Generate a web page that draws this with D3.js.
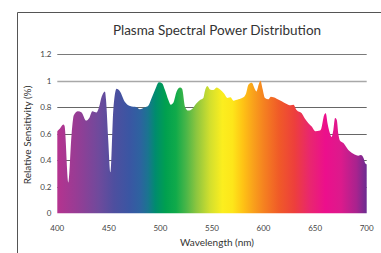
<!DOCTYPE html>
<html>
<head>
<meta charset="utf-8">
<script src="https://cdn.jsdelivr.net/npm/d3@7"></script>
<style>
  html,body{margin:0;padding:0;background:#fff;}
  svg{display:block;font-family:"Lato","Open Sans",sans-serif;}
</style>
</head>
<body>
<div id="chart"></div>
<script>
// Plasma SPD – area under curve filled with spectrum gradient
const title = "Plasma Spectral Power Distribution";
const xLabel = "Wavelength (nm)";
const yLabel = "Relative Sensitivity (%)";

const xTicks = [400,450,500,550,600,650,700];
const yTicks = [0,0.2,0.4,0.6,0.8,1,1.2];

const wavelength = [400,402.6,405.8,407,410.7,413.9,416,420,423.6,427.8,431,434,438,440.4,443,446.2,447.2,449.4,451.4,454.3,457.5,460.8,465.6,470.5,477,480,485,488,491.5,494.7,498.6,501.8,504.4,507.7,510,512.5,515.7,519,521,523.8,527,531,535,538.4,541.6,543,545.5,548,551.3,554.5,557.8,561.7,565,568,570.7,575.6,580.4,583,585.3,588.5,591.7,593,595.6,597,599,601.4,604.7,607,609.5,612.7,617.6,622.4,626.3,629,632,637,640,643.5,646.7,650,654.8,656,658.7,660.3,662,664.5,666,667.7,669.3,671,672.5,674,677.4,682,687,692,694.4,697,698.4,700];
const power = [0.62,0.64,0.67,0.66,0.23,0.60,0.74,0.77,0.76,0.70,0.72,0.77,0.76,0.80,0.88,0.92,0.86,0.55,0.31,0.78,0.94,0.92,0.84,0.81,0.80,0.785,0.80,0.81,0.87,0.93,0.99,0.98,0.93,0.855,0.82,0.835,0.92,0.95,0.94,0.805,0.775,0.79,0.83,0.855,0.87,0.92,0.96,0.935,0.93,0.95,0.935,0.905,0.87,0.875,0.85,0.86,0.875,0.905,0.97,0.985,0.935,0.92,0.98,1.0,0.94,0.87,0.86,0.88,0.875,0.865,0.845,0.825,0.815,0.82,0.78,0.755,0.715,0.68,0.655,0.62,0.625,0.64,0.74,0.755,0.68,0.60,0.575,0.63,0.72,0.705,0.60,0.55,0.53,0.48,0.45,0.435,0.44,0.415,0.38,0.37];

// spectrum colour stops (nm -> colour)
const stopNm = [400,420,440,455,470,480,488,495,505,515,525,535,548,560,570,580,590,600,615,630,645,660,675,690,700];
const stopColor = ["#b5338f","#953d95","#6f4a9c","#4e4f9f","#3a56a3","#2e62a0","#1a7590","#008c6e","#00a04f","#10aa4a","#4ab648","#8dc63f","#d2df2e","#fbee1f","#fde61a","#fec315","#f9a11b","#f58220","#f05a28","#ed3f3c","#e9266f","#ec0f8c","#dc1a8c","#a9238e","#6b2c90"];

const W = 381, H = 253;
const m = {left:57.3, right:14.3, top:54.3, bottom:39.7};

const svg = d3.select("#chart").append("svg").attr("width",W).attr("height",H);

const x = d3.scaleLinear().domain([400,700]).range([m.left, W-m.right]);
const y = d3.scaleLinear().domain([0,1.2]).range([H-m.bottom, m.top]);

// frame
svg.append("path").attr("d",`M17.5,${H} V12.5 H${W}`).attr("fill","none").attr("stroke","#555").attr("stroke-width",1);

// gradient
const grad = svg.append("defs").append("linearGradient").attr("id","spec")
  .attr("gradientUnits","userSpaceOnUse").attr("x1",x(400)).attr("x2",x(700)).attr("y1",0).attr("y2",0);
grad.selectAll("stop").data(stopNm).join("stop")
  .attr("offset",d=>(d-400)/300).attr("stop-color",(d,i)=>stopColor[i]);

// gridlines
const gridCol = {1.2:"#7a7a7a",1:"#a8a8a8"};
svg.append("g").selectAll("line").data(yTicks.filter(d=>d>0)).join("line")
  .attr("x1",x(400)).attr("x2",x(700)).attr("y1",d=>Math.round(y(d))+0.5).attr("y2",d=>Math.round(y(d))+0.5)
  .attr("stroke",d=>gridCol[d]||"#666").attr("stroke-width",d=>d===1?1.5:1);

// area
const pts = wavelength.map((w,i)=>[w,power[i]]);
svg.append("path").datum(pts)
  .attr("d",d3.area().x(d=>x(d[0])).y0(y(0)).y1(d=>y(d[1])).curve(d3.curveMonotoneX))
  .attr("fill","url(#spec)");

// y tick labels
svg.append("g").selectAll("text").data(yTicks).join("text")
  .attr("x",51.5).attr("y",d=>y(d)).attr("dy","0.35em").attr("text-anchor","end")
  .attr("font-size",8).attr("fill","#444").text(d=>d);

// x tick labels
svg.append("g").selectAll("text").data(xTicks).join("text")
  .attr("x",d=>x(d)).attr("y",231).attr("text-anchor","middle")
  .attr("font-size",8).attr("fill","#444").text(d=>d);

// titles
svg.append("text").attr("x",217).attr("y",34.5).attr("text-anchor","middle")
  .attr("font-size",13.5).attr("fill","#333").text(title);
svg.append("text").attr("x",217).attr("y",245.5).attr("text-anchor","middle")
  .attr("font-size",10).attr("fill","#333").text(xLabel);
svg.append("text").attr("transform","translate(31,135) rotate(-90)").attr("text-anchor","middle")
  .attr("font-size",10).attr("fill","#333").text(yLabel);
</script>
</body>
</html>
